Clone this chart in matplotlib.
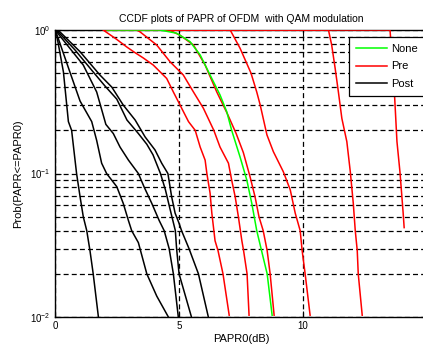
import matplotlib
matplotlib.use('Agg')
import matplotlib.pyplot as plt
from matplotlib.lines import Line2D

plt.rcParams['font.family'] = ['Liberation Sans', 'DejaVu Sans']

# CCDF without any PAPR reduction
papr_none = [2.1, 4.23, 4.9, 5.44, 5.85, 6.25, 6.65, 6.92, 7.12, 7.46, 7.73,
             7.93, 8.13, 8.39, 8.55, 8.75]
ccdf_none = [1.0, 1.0, 0.95, 0.83, 0.67, 0.486, 0.353, 0.27, 0.2, 0.13, 0.09,
             0.062, 0.04, 0.026, 0.02, 0.0103]

# CCDF before clipping (red curves)
papr_pre = [
    [1.94, 2.45, 2.9, 3.2, 3.55, 3.96, 4.5, 4.77, 5.04, 5.38, 5.65, 5.85,
     6.05, 6.12, 6.25, 6.32, 6.45, 6.57, 6.77, 7.02],
    [2.0, 3.3, 3.43, 4.1, 4.64, 5.17, 5.58, 5.98, 6.4, 6.65, 6.99, 7.12, 7.26,
     7.39, 7.53, 7.6, 7.74, 7.82],
    [2.0, 4.6, 5.04, 5.58, 6.05, 6.52, 6.95, 7.3, 7.59, 7.86, 8.06, 8.22,
     8.39, 8.55, 8.67, 8.83],
    [2.0, 7.06, 7.46, 7.9, 8.13, 8.27, 8.54, 8.8, 9.2, 9.48, 9.68, 9.88,
     9.96, 10.08, 10.28],
    [2.0, 11.02, 11.15, 11.29, 11.42, 11.56, 11.76, 11.9, 12.02, 12.1, 12.18,
     12.22, 12.38],
    [2.0, 13.5, 13.64, 13.71, 13.78, 13.9, 14.03, 14.07],
]
ccdf_pre = [
    [1.0, 0.87, 0.76, 0.70, 0.64, 0.57, 0.46, 0.37, 0.30, 0.23, 0.20, 0.153,
     0.124, 0.10, 0.073, 0.053, 0.034, 0.029, 0.020, 0.0103],
    [1.0, 1.0, 0.97, 0.786, 0.60, 0.486, 0.37, 0.285, 0.2, 0.153, 0.118,
     0.09, 0.069, 0.05, 0.034, 0.029, 0.020, 0.0103],
    [1.0, 1.0, 0.92, 0.786, 0.57, 0.37, 0.26, 0.19, 0.14, 0.095, 0.069, 0.05,
     0.040, 0.029, 0.020, 0.0103],
    [1.0, 1.0, 0.745, 0.5, 0.37, 0.3, 0.186, 0.142, 0.103, 0.077, 0.053,
     0.040, 0.029, 0.020, 0.0103],
    [1.0, 1.0, 0.786, 0.54, 0.37, 0.242, 0.167, 0.103, 0.062, 0.04, 0.029,
     0.02, 0.0103],
    [1.0, 1.0, 0.486, 0.286, 0.167, 0.103, 0.053, 0.042],
]

# CCDF after clipping (black curves)
papr_post = [
    [0, 0.07, 0.34, 0.54, 0.67, 0.87, 1.01, 1.14, 1.28, 1.41, 1.54, 1.75],
    [0, 0.13, 0.6, 1.01, 1.48, 1.68, 1.88, 2.08, 2.49, 2.75, 2.96, 3.09,
     3.36, 3.7, 4.1, 4.57],
    [0, 0.07, 0.6, 1.14, 1.68, 2.05, 2.35, 2.62, 2.96, 3.36, 3.6, 3.9, 4.2,
     4.4, 4.6, 4.77, 4.97],
    [0, 0.13, 0.81, 1.54, 2.0, 2.49, 2.9, 3.36, 3.7, 3.95, 4.25, 4.45, 4.6,
     4.75, 4.85, 4.9, 5.0, 5.5],
    [0, 0.2, 1.01, 1.81, 2.29, 2.75, 3.23, 3.63, 4.03, 4.3, 4.55, 4.7, 4.84,
     5.0, 5.1, 5.4, 5.78, 6.18],
]
ccdf_post = [
    [1.0, 0.92, 0.51, 0.23, 0.2, 0.1, 0.069, 0.05, 0.04, 0.029, 0.02, 0.01],
    [1.0, 0.875, 0.51, 0.32, 0.23, 0.17, 0.118, 0.1, 0.081, 0.062, 0.047,
     0.04, 0.033, 0.02, 0.014, 0.01],
    [1.0, 0.97, 0.745, 0.57, 0.37, 0.22, 0.19, 0.153, 0.124, 0.1, 0.08,
     0.062, 0.047, 0.04, 0.03, 0.02, 0.01],
    [1.0, 0.97, 0.725, 0.51, 0.41, 0.33, 0.236, 0.19, 0.16, 0.135, 0.1,
     0.077, 0.06, 0.047, 0.04, 0.03, 0.02, 0.01],
    [1.0, 0.97, 0.706, 0.486, 0.40, 0.30, 0.236, 0.18, 0.146, 0.118, 0.1,
     0.069, 0.053, 0.045, 0.04, 0.03, 0.02, 0.01],
]

legend_labels = ['None', 'Pre', 'Post']
colours = ['#00ff00', '#ff0000', '#000000']


def plot_ccdf():
    fig = plt.figure(figsize=(4.23, 3.45), dpi=100)
    ax = fig.add_axes([0.130, 0.081, 0.880, 0.832])
    lw = 1.1
    # lines above the spines, so the top edge shows the p=1 segments
    for x, p in zip(papr_pre, ccdf_pre):
        ax.semilogy(x, p, color=colours[1], lw=lw, zorder=3)
    ax.semilogy(papr_none, ccdf_none, color=colours[0], lw=lw, zorder=3)
    for x, p in zip(papr_post, ccdf_post):
        ax.semilogy(x, p, color=colours[2], lw=lw, zorder=3)

    ax.set_xlim(0, 15)
    ax.set_ylim(0.01, 1)
    ax.set_xticks([0, 5, 10, 15])
    ax.grid(True, which='major', color='k', linestyle=(0, (4, 2.5)), lw=0.9)
    ax.grid(True, which='minor', axis='y', color='k',
            linestyle=(0, (4, 2.5)), lw=0.9)
    ax.tick_params(which='both', direction='in', top=True, right=True,
                   labelsize=7, colors='k', pad=3)
    ax.tick_params(which='major', length=4)
    ax.tick_params(which='minor', length=2.5)
    for s in ax.spines.values():
        s.set_linewidth(1.0)

    ax.set_title('CCDF plots of PAPR of OFDM  with QAM modulation',
                 fontsize=7.5, pad=6)
    ax.set_xlabel('PAPR0(dB)', fontsize=8, labelpad=2)
    ax.set_ylabel('Prob(PAPR<=PAPR0)', fontsize=8, labelpad=5)

    handles = [Line2D([], [], color=c, lw=lw) for c in colours]
    leg = fig.legend(handles, legend_labels, loc='upper left',
                     bbox_to_anchor=(349 / 423, 1 - 37 / 345), fontsize=8,
                     fancybox=False, framealpha=1, edgecolor='k',
                     handlelength=2.8, handletextpad=0.4, borderaxespad=0,
                     borderpad=0.6, labelspacing=0.7)
    leg.get_frame().set_linewidth(0.9)
    return fig


fig = plot_ccdf()
fig.savefig('out.png', dpi=100)
